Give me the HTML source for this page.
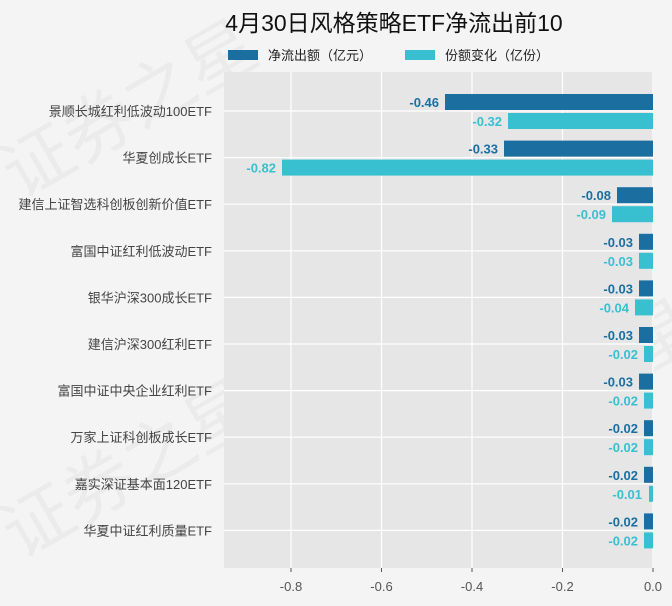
<!DOCTYPE html>
<html><head><meta charset="utf-8"><style>
body{margin:0;background:#f4f4f4;}
svg{display:block;font-family:"Liberation Sans","Noto Sans CJK SC",sans-serif;}
</style></head><body>
<svg width="672" height="606" viewBox="0 0 672 606" xmlns="http://www.w3.org/2000/svg">
<rect width="672" height="606" fill="#f4f4f4"/>
<g fill="#000" fill-opacity="0.035" font-size="70" font-family="Noto Sans CJK SC,sans-serif">
<text x="20" y="200" transform="rotate(-30 20 200)">证券之星</text>
<text x="20" y="560" transform="rotate(-30 20 560)">证券之星</text>
<text x="460" y="480" transform="rotate(-30 460 480)">证券之星</text>
</g>
<text x="394" y="31" text-anchor="middle" font-size="23" fill="#111">4月30日风格策略ETF净流出前10</text>
<rect x="228" y="50" width="30" height="10" fill="#1a6fa0"/>
<text x="268" y="60" font-size="13" fill="#222">净流出额（亿元）</text>
<rect x="405" y="50" width="30" height="10" fill="#38c0d0"/>
<text x="445" y="60" font-size="13" fill="#222">份额变化（亿份）</text>
<rect x="224" y="72" width="430" height="496" fill="#e6e6e6"/>
<g stroke="#fff" stroke-width="1.2">
<line x1="291" y1="72" x2="291" y2="568"/><line x1="381.5" y1="72" x2="381.5" y2="568"/>
<line x1="472" y1="72" x2="472" y2="568"/><line x1="562.5" y1="72" x2="562.5" y2="568"/>
<line x1="653" y1="72" x2="653" y2="568"/>
<line x1="224" y1="111" x2="654" y2="111"/><line x1="224" y1="157.6" x2="654" y2="157.6"/>
<line x1="224" y1="204.2" x2="654" y2="204.2"/><line x1="224" y1="250.8" x2="654" y2="250.8"/>
<line x1="224" y1="297.4" x2="654" y2="297.4"/><line x1="224" y1="344" x2="654" y2="344"/>
<line x1="224" y1="390.6" x2="654" y2="390.6"/><line x1="224" y1="437.2" x2="654" y2="437.2"/>
<line x1="224" y1="483.8" x2="654" y2="483.8"/><line x1="224" y1="530.4" x2="654" y2="530.4"/>
</g>
<g font-size="13" fill="#555" text-anchor="middle">
<text x="291" y="591">-0.8</text><text x="381.5" y="591">-0.6</text><text x="472" y="591">-0.4</text><text x="562.5" y="591">-0.2</text><text x="653" y="591">0.0</text>
</g>
<g stroke="#555"><line x1="291" y1="568" x2="291" y2="572"/><line x1="381.5" y1="568" x2="381.5" y2="572"/><line x1="472" y1="568" x2="472" y2="572"/><line x1="562.5" y1="568" x2="562.5" y2="572"/><line x1="653" y1="568" x2="653" y2="572"/></g>
<g font-size="13" fill="#444" text-anchor="end">
<text x="212" y="116">景顺长城红利低波动100ETF</text>
<text x="212" y="162.6">华夏创成长ETF</text>
<text x="212" y="209.2">建信上证智选科创板创新价值ETF</text>
<text x="212" y="255.8">富国中证红利低波动ETF</text>
<text x="212" y="302.4">银华沪深300成长ETF</text>
<text x="212" y="349">建信沪深300红利ETF</text>
<text x="212" y="395.6">富国中证中央企业红利ETF</text>
<text x="212" y="442.2">万家上证科创板成长ETF</text>
<text x="212" y="488.8">嘉实深证基本面120ETF</text>
<text x="212" y="535.4">华夏中证红利质量ETF</text>
</g>
<g font-size="13" font-weight="bold" text-anchor="end">
<rect x="445" y="94" width="208" height="16" fill="#1a6fa0"/><text x="439" y="107" fill="#1a6fa0">-0.46</text>
<rect x="508" y="113" width="145" height="16" fill="#38c0d0"/><text x="502" y="126" fill="#38c0d0">-0.32</text>
<rect x="504" y="140.6" width="149" height="16" fill="#1a6fa0"/><text x="498" y="153.6" fill="#1a6fa0">-0.33</text>
<rect x="282" y="159.6" width="371" height="16" fill="#38c0d0"/><text x="276" y="172.6" fill="#38c0d0">-0.82</text>
<rect x="617" y="187.2" width="36" height="16" fill="#1a6fa0"/><text x="611" y="200.2" fill="#1a6fa0">-0.08</text>
<rect x="612" y="206.2" width="41" height="16" fill="#38c0d0"/><text x="606" y="219.2" fill="#38c0d0">-0.09</text>
<rect x="639" y="233.8" width="14" height="16" fill="#1a6fa0"/><text x="633" y="246.8" fill="#1a6fa0">-0.03</text>
<rect x="639" y="252.8" width="14" height="16" fill="#38c0d0"/><text x="633" y="265.8" fill="#38c0d0">-0.03</text>
<rect x="639" y="280.4" width="14" height="16" fill="#1a6fa0"/><text x="633" y="293.4" fill="#1a6fa0">-0.03</text>
<rect x="635" y="299.4" width="18" height="16" fill="#38c0d0"/><text x="629" y="312.4" fill="#38c0d0">-0.04</text>
<rect x="639" y="327" width="14" height="16" fill="#1a6fa0"/><text x="633" y="340" fill="#1a6fa0">-0.03</text>
<rect x="644" y="346" width="9" height="16" fill="#38c0d0"/><text x="638" y="359" fill="#38c0d0">-0.02</text>
<rect x="639" y="373.6" width="14" height="16" fill="#1a6fa0"/><text x="633" y="386.6" fill="#1a6fa0">-0.03</text>
<rect x="644" y="392.6" width="9" height="16" fill="#38c0d0"/><text x="638" y="405.6" fill="#38c0d0">-0.02</text>
<rect x="644" y="420.2" width="9" height="16" fill="#1a6fa0"/><text x="638" y="433.2" fill="#1a6fa0">-0.02</text>
<rect x="644" y="439.2" width="9" height="16" fill="#38c0d0"/><text x="638" y="452.2" fill="#38c0d0">-0.02</text>
<rect x="644" y="466.8" width="9" height="16" fill="#1a6fa0"/><text x="638" y="479.8" fill="#1a6fa0">-0.02</text>
<rect x="649" y="485.8" width="4" height="16" fill="#38c0d0"/><text x="642" y="498.8" fill="#38c0d0">-0.01</text>
<rect x="644" y="513.4" width="9" height="16" fill="#1a6fa0"/><text x="638" y="526.4" fill="#1a6fa0">-0.02</text>
<rect x="644" y="532.4" width="9" height="16" fill="#38c0d0"/><text x="638" y="545.4" fill="#38c0d0">-0.02</text>
</g>
</svg>
</body></html>
